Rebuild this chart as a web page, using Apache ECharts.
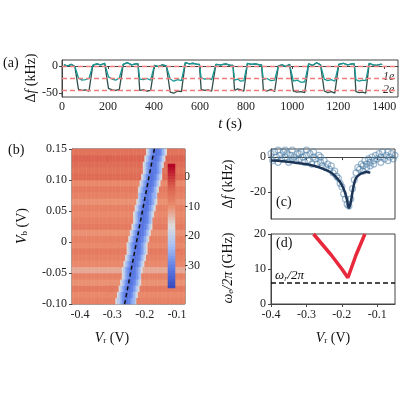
<!DOCTYPE html>
<html>
<head>
<meta charset="utf-8">
<script src="https://cdn.jsdelivr.net/npm/echarts@6/dist/echarts.min.js"></script>
<style>html,body{margin:0;padding:0;background:#fff}#c{width:400px;height:400px}</style>
</head>
<body>
<div id="c"></div>
<script>
// (a) telegraph trace: switch times and levels per segment
var switchTimes = [0, 64, 125, 194, 257, 330, 393, 462, 527, 597, 658, 743, 797, 867, 932, 997, 1063, 1132, 1193, 1270, 1327, 1391];
var highVals = [[2, 0, 3, -1], [1, 4, 2, 5], [3, 6, 2, 4], [1, -1, 2, 0], [6, 4, 5, 3], [3, 2, 4, 1], [5, 3, 4, 2], [0, 2, -1, 3], [4, 1, 6, 2], [3, 5, 2, 4], [5, 2, 1, 3]];
var lowTeal = [[-22, -26, -25, -23], [-20, -24, -26, -22], [-24, -25, -23, -26], [-24, -28, -25, -27], [-22, -24, -23, -25], [-26, -24, -28, -27], [-25, -23, -27, -26], [-28, -26, -30, -29], [-24, -27, -25, -28], [-25, -28, -26, -27]];
var lowDark = [[-43, -45, -44, -46], [-41, -44, -45, -43], [-45, -44, -46, -45], [-48, -50, -46, -47], [-43, -45, -44, -46], [-45, -42, -44, -46], [-44, -46, -43, -47], [-46, -48, -47, -49], [-46, -49, -47, -50], [-47, -49, -48, -50]];
var refLevels = [0, -23, -44];

// (b) map: rows of Vb, band centre per row, background per row, profile vs distance
var vbRows = [];
var vrCols = [];
for (var r = 0; r < 25; r++) vbRows.push((-0.095 + r * 0.01).toFixed(3));
for (var q = 0; q < 70; q++) vrCols.push((-0.4225 + q * 0.005).toFixed(4));
var bandCenter = [-0.255, -0.251, -0.247, -0.244, -0.240, -0.236, -0.232, -0.228, -0.224, -0.221, -0.217, -0.213, -0.209, -0.205, -0.201, -0.198, -0.194, -0.190, -0.186, -0.182, -0.178, -0.175, -0.171, -0.167, -0.163];
var rowBg = [-8, -9, -7, -10, -8, -12, -9, -8, -7, -9, -8, -10, -7, -8, -9, -8, -10, -8, -7, -9, -5, -6, -5, -4, -6];
var bandProfile = [-32, -31, -30, -28, -25, -21, -17];
var minLine = [[-0.262, -0.10], [-0.17, 0.15]];

// (c) data and fit
var cPoints = [[-0.40,2],[-0.395,-2],[-0.39,3],[-0.385,0],[-0.38,4],[-0.375,1],[-0.37,-1],[-0.365,3],[-0.36,0],[-0.355,2],[-0.35,-3],[-0.345,1],[-0.34,4],[-0.335,0],[-0.33,-2],[-0.325,2],[-0.32,-1],[-0.315,3],[-0.31,0],[-0.305,-3],[-0.30,1],[-0.295,-2],[-0.29,2],[-0.285,-4],[-0.28,0],[-0.275,-1],[-0.27,-4],[-0.265,1],[-0.26,-3],[-0.255,-5],[-0.25,-2],[-0.245,-6],[-0.24,-4],[-0.235,-7],[-0.23,-5],[-0.225,-9],[-0.22,-8],[-0.215,-11],[-0.21,-12],[-0.205,-15],[-0.20,-17],[-0.195,-21],[-0.19,-24],[-0.185,-27],[-0.18,-28],[-0.175,-24],[-0.17,-18],[-0.165,-13],[-0.16,-9],[-0.155,-6],[-0.15,-7],[-0.145,-4],[-0.14,-5],[-0.135,-2],[-0.13,-4],[-0.125,-1],[-0.12,-3],[-0.115,0],[-0.11,-2],[-0.105,1],[-0.10,-1],[-0.095,2],[-0.09,0],[-0.085,3],[-0.08,-1],[-0.075,1],[-0.07,3],[-0.065,0],[-0.06,2],[-0.055,-1],[-0.05,1],[-0.38,-3],[-0.36,4],[-0.34,-1],[-0.32,2],[-0.30,4],[-0.28,3],[-0.26,0],[-0.14,-8],[-0.13,-6],[-0.12,-5],[-0.11,-4],[-0.09,-3],[-0.07,-2]];
var cFit = [[-0.40,-2],[-0.36,-2.5],[-0.32,-3.5],[-0.28,-5],[-0.25,-7],[-0.23,-9],[-0.21,-13],[-0.20,-16],[-0.19,-21],[-0.185,-25],[-0.18,-29],[-0.175,-26],[-0.17,-20],[-0.165,-15],[-0.16,-12],[-0.15,-10],[-0.14,-9],[-0.13,-8.5],[-0.12,-9]];

// (d) electron frequency
var dCurve = [[-0.28,20],[-0.23,14],[-0.20,10],[-0.183,7.5],[-0.16,14],[-0.135,20]];
var omegaR = 6;

// colour bar cells
var cbVals = [];
for (var k = -37; k <= 4; k++) cbVals.push(k);

function segPoints(levels) {
    var pts = [];
    for (var s = 0; s < switchTimes.length - 1; s++) {
        var t0 = switchTimes[s], t1 = switchTimes[s + 1];
        var vals = levels(s);
        for (var i = 0; i < vals.length; i++) {
            pts.push([t0 + (t1 - t0) * (i + 0.5) / vals.length, vals[i]]);
        }
        pts.push([t1, vals[vals.length - 1]]);
    }
    return pts;
}
var tealPts = segPoints(function (s) { return s % 2 === 0 ? highVals[s / 2] : lowTeal[(s - 1) / 2]; });
var darkPts = segPoints(function (s) { return s % 2 === 0 ? highVals[s / 2] : lowDark[(s - 1) / 2]; });

var mapData = [];
for (var j = 0; j < vbRows.length; j++) {
    for (var i2 = 0; i2 < vrCols.length; i2++) {
        var d = Math.round(Math.abs(parseFloat(vrCols[i2]) - bandCenter[j]) / 0.005);
        mapData.push([i2, j, d < bandProfile.length ? bandProfile[d] : rowBg[j]]);
    }
}
var cbData = cbVals.map(function (v, i) { return [0, i, v]; });

var F = 'Liberation Serif';
var lab = { fontFamily: F, fontSize: 12, color: '#222' };
var line = { show: true, lineStyle: { color: '#444', width: 1 } };
var tick = { show: true, length: 3, lineStyle: { color: '#444' } };
function fmt1(v) { return v.toFixed(1); }
function it(size, extra) { return Object.assign({ fontFamily: F, fontSize: size, fontStyle: 'italic' }, extra || {}); }
function sub(size, italic) { return { fontFamily: F, fontSize: size, fontStyle: italic ? 'italic' : 'normal', padding: [6, 0, 0, 0] }; }

var chart = echarts.init(document.getElementById('c'));
chart.setOption({
    animation: false,
    grid: [
        { left: 62, top: 60, width: 336, height: 37, show: true, borderColor: '#444' },
        { left: 72, top: 149, width: 113, height: 155, show: true, borderColor: '#444' },
        { left: 168, top: 164, width: 7, height: 124, show: true, borderColor: '#666' },
        { left: 271, top: 149, width: 124, height: 70, show: true, borderColor: '#444' },
        { left: 271, top: 234, width: 124, height: 70, show: true, borderColor: '#444' }
    ],
    xAxis: [
        { gridIndex: 0, type: 'value', min: 0, max: 1460, interval: 200, axisLine: line, axisTick: tick, splitLine: { show: false }, axisLabel: Object.assign({ margin: 4, showMaxLabel: false, formatter: function (v) { return String(v); } }, lab) },
        { gridIndex: 1, type: 'value', min: -0.425, max: -0.075, axisLine: line, axisTick: Object.assign({ customValues: [-0.4, -0.3, -0.2, -0.1] }, tick), splitLine: { show: false }, axisLabel: Object.assign({ margin: 5, customValues: [-0.4, -0.3, -0.2, -0.1], formatter: fmt1 }, lab) },
        { gridIndex: 1, type: 'category', data: vrCols, show: false },
        { gridIndex: 2, type: 'category', data: ['c'], show: false },
        { gridIndex: 3, type: 'value', min: -0.4, max: -0.05, axisLine: line, axisTick: Object.assign({ customValues: [-0.4, -0.3, -0.2, -0.1] }, tick), splitLine: { show: false }, axisLabel: { show: false } },
        { gridIndex: 4, type: 'value', min: -0.4, max: -0.05, axisLine: line, axisTick: Object.assign({ customValues: [-0.4, -0.3, -0.2, -0.1] }, tick), splitLine: { show: false }, axisLabel: Object.assign({ margin: 5, customValues: [-0.4, -0.3, -0.2, -0.1], formatter: fmt1 }, lab) }
    ],
    yAxis: [
        { gridIndex: 0, type: 'value', min: -57, max: 11, axisLine: line, axisTick: Object.assign({ customValues: [0, -50] }, tick), splitLine: { show: false }, axisLabel: Object.assign({ margin: 4, customValues: [0, -50] }, lab) },
        { gridIndex: 1, type: 'value', min: -0.1, max: 0.15, interval: 0.05, axisLine: line, axisTick: tick, splitLine: { show: false }, axisLabel: Object.assign({ margin: 5, formatter: function (v) { return Math.abs(v) < 1e-9 ? '0' : v.toFixed(2); } }, lab) },
        { gridIndex: 1, type: 'category', data: vbRows, show: false },
        { gridIndex: 2, type: 'category', data: cbVals, show: false },
        { gridIndex: 2, type: 'value', min: -37.5, max: 4.5, position: 'right', axisLine: { show: false }, axisTick: { show: false }, splitLine: { show: false }, axisLabel: Object.assign({ margin: 9, customValues: [0, -10, -20, -30] }, lab) },
        { gridIndex: 3, type: 'value', min: -35.4, max: 4.6, axisLine: line, axisTick: Object.assign({ customValues: [0, -20] }, tick), splitLine: { show: false }, axisLabel: Object.assign({ margin: 5, customValues: [0, -20] }, lab) },
        { gridIndex: 4, type: 'value', min: 0, max: 20, interval: 10, axisLine: line, axisTick: tick, splitLine: { show: false }, axisLabel: Object.assign({ margin: 5 }, lab) }
    ],
    visualMap: {
        show: false, min: -37, max: 4, seriesIndex: [2, 4],
        inRange: { color: ['#3b4cc0', '#5f7fe8', '#a5c0f5', '#dcdcdc', '#eb8d6e', '#d95c4b', '#b40426'] }
    },
    series: [
        { type: 'line', xAxisIndex: 0, yAxisIndex: 0, data: darkPts, showSymbol: false, lineStyle: { color: '#2f4f4a', width: 1.3 } },
        { type: 'line', xAxisIndex: 0, yAxisIndex: 0, data: tealPts, showSymbol: false, lineStyle: { color: '#179a96', width: 1.3 },
          markLine: { silent: true, symbol: 'none', label: { show: false }, lineStyle: { color: '#f07c7c', type: [5, 3], width: 1.3 }, data: refLevels.map(function (v) { return { yAxis: v }; }) } },
        { type: 'heatmap', xAxisIndex: 2, yAxisIndex: 2, data: mapData, itemStyle: { borderWidth: 0 } },
        { type: 'line', xAxisIndex: 1, yAxisIndex: 1, data: minLine, showSymbol: false, lineStyle: { color: '#111', type: [4, 3], width: 1.5 } },
        { type: 'heatmap', xAxisIndex: 3, yAxisIndex: 3, data: cbData },
        { type: 'scatter', xAxisIndex: 4, yAxisIndex: 5, data: cPoints, symbol: 'circle', symbolSize: 6, itemStyle: { color: 'rgba(0,0,0,0)', borderColor: 'rgba(74,124,164,0.65)', borderWidth: 1.2 } },
        { type: 'line', xAxisIndex: 4, yAxisIndex: 5, data: cFit, smooth: true, showSymbol: false, lineStyle: { color: '#1c3557', width: 2.5 } },
        { type: 'line', xAxisIndex: 5, yAxisIndex: 6, data: dCurve, showSymbol: false, lineStyle: { color: '#e8283b', width: 3.5 } },
        { type: 'line', xAxisIndex: 5, yAxisIndex: 6, data: [[-0.4, omegaR], [-0.05, omegaR]], showSymbol: false, lineStyle: { color: '#111', type: [5, 3], width: 1.5 } }
    ],
    graphic: [
        { type: 'text', left: 3, top: 56, style: { text: '(a)', font: '14px ' + F, fill: '#111' } },
        { type: 'text', left: 8, top: 143, style: { text: '(b)', font: '14px ' + F, fill: '#111' } },
        { type: 'text', left: 276, top: 195, style: { text: '(c)', font: '14px ' + F, fill: '#111' } },
        { type: 'text', left: 276, top: 236, style: { text: '(d)', font: '14px ' + F, fill: '#111' } },
        { type: 'text', left: 383, top: 71, style: { text: '{i|1e}', rich: { i: it(12, { fill: '#333' }) } } },
        { type: 'text', left: 383, top: 84, style: { text: '{i|2e}', rich: { i: it(12, { fill: '#333' }) } } },
        { type: 'text', x: 31, y: 78, rotation: Math.PI / 2, style: { text: 'Δ{i|f} (kHz)', font: '14px ' + F, fill: '#111', align: 'center', verticalAlign: 'middle', rich: { i: it(14) } } },
        { type: 'text', x: 230, y: 124, style: { text: '{i|t} (s)', font: '15px ' + F, fill: '#111', align: 'center', verticalAlign: 'middle', rich: { i: it(15) } } },
        { type: 'text', x: 80, y: 160, style: { text: '{i|N}{s|e} = 1', font: '12px ' + F, fill: '#222', verticalAlign: 'middle', rich: { i: it(12), s: sub(8, true) } } },
        { type: 'text', x: 113, y: 284, rotation: 1.25, style: { text: 'min(ω{s|e})', font: '12px ' + F, fill: '#111', align: 'center', verticalAlign: 'middle', rich: { s: sub(8, true) } } },
        { type: 'text', x: 180, y: 256, rotation: Math.PI / 2, style: { text: 'Δ{i|f} (kHz)', font: '13px ' + F, fill: '#111', align: 'center', verticalAlign: 'middle', rich: { i: it(13) } } },
        { type: 'text', x: 22, y: 226, rotation: Math.PI / 2, style: { text: '{i|V}{s|b} (V)', font: '14px ' + F, fill: '#111', align: 'center', verticalAlign: 'middle', rich: { i: it(14), s: sub(9) } } },
        { type: 'text', x: 112, y: 338, style: { text: '{i|V}{s|r} (V)', font: '14px ' + F, fill: '#111', align: 'center', verticalAlign: 'middle', rich: { i: it(14), s: sub(9) } } },
        { type: 'text', x: 333, y: 338, style: { text: '{i|V}{s|r} (V)', font: '14px ' + F, fill: '#111', align: 'center', verticalAlign: 'middle', rich: { i: it(14), s: sub(9) } } },
        { type: 'text', x: 228, y: 184, rotation: Math.PI / 2, style: { text: 'Δ{i|f} (kHz)', font: '14px ' + F, fill: '#111', align: 'center', verticalAlign: 'middle', rich: { i: it(14) } } },
        { type: 'text', x: 228, y: 268, rotation: Math.PI / 2, style: { text: '{i|ω}{s|e}{i|/2π} (GHz)', font: '14px ' + F, fill: '#111', align: 'center', verticalAlign: 'middle', rich: { i: it(14), s: sub(9, true) } } },
        { type: 'text', x: 275, y: 276, style: { text: '{i|ω}{s|r}{i|/2π}', font: '13px ' + F, fill: '#111', verticalAlign: 'middle', rich: { i: it(13), s: sub(8, true) } } }
    ]
});
</script>
</body>
</html>
